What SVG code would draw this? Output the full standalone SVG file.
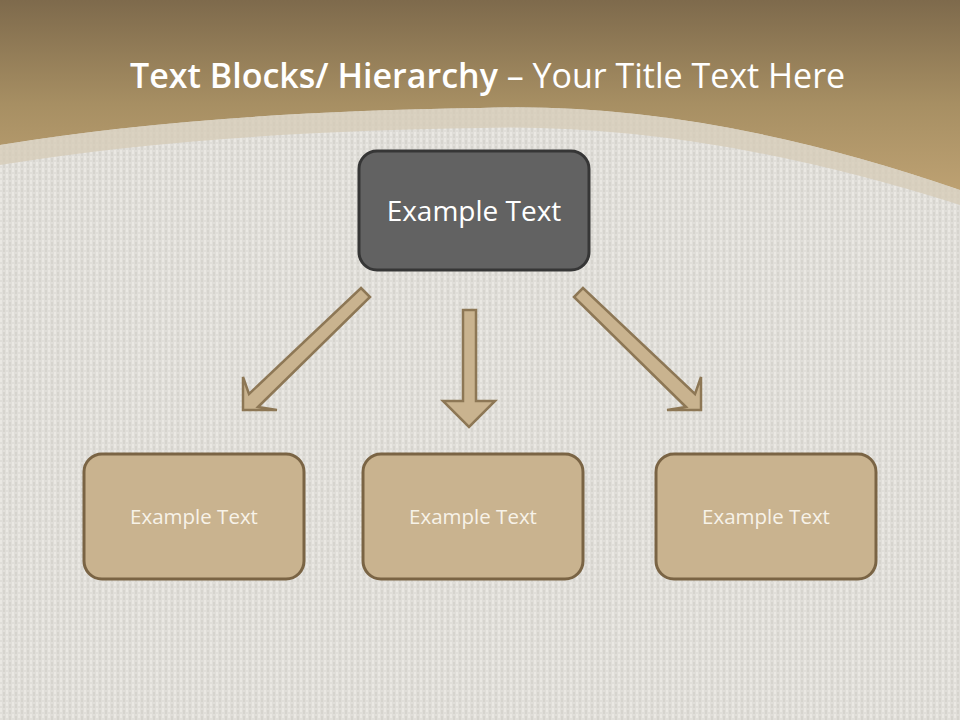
<svg xmlns="http://www.w3.org/2000/svg" width="960" height="720" viewBox="0 0 960 720">
<defs>
<linearGradient id="band" x1="0" y1="0" x2="0" y2="1">
<stop offset="0" stop-color="#7e6a4c"/>
<stop offset="0.55" stop-color="#a78f63"/>
<stop offset="1" stop-color="#bda172"/>
</linearGradient>
<pattern id="linen" width="6" height="6" patternUnits="userSpaceOnUse">
<rect width="6" height="6" fill="#e0ded9"/>
<rect x="0" y="0" width="2" height="4" fill="#eae8e3"/>
<rect x="3" y="2" width="2" height="4" fill="#d6d4ce"/>
</pattern>
<style>
.title{font-family:"Open Sans","Lato",sans-serif;font-size:34px;fill:#ffffff}
.top rect{fill:#626262;stroke:#363636;stroke-width:3}
.top text{font-family:"Open Sans","Lato",sans-serif;font-size:28px;fill:#ffffff;text-anchor:middle}
.box rect{fill:#c9b38f;stroke:#7a6444;stroke-width:3}
.box text{font-family:"Open Sans","Lato",sans-serif;font-size:20.5px;fill:#f7f2e8;text-anchor:middle}
.arrow{fill:#c9b38f;stroke:#8d7755;stroke-width:2.5;stroke-linejoin:miter}
</style>
</defs>
<rect width="960" height="720" fill="url(#linen)"/>
<path d="M0 0 H960 V190 Q700 100 480 108 Q200 112 0 145 Z" fill="url(#band)"/>
<path d="M0 145 Q200 112 480 108 Q700 100 960 190 V205 Q700 122 480 128 Q200 132 0 165 Z" fill="#d6cbb6" opacity="0.75"/>
<text class="title" x="130" y="88"><tspan font-weight="600">Text Blocks/ Hierarchy</tspan> – Your Title Text Here</text>
<g id="connectors">
<path class="arrow" d="M361 288 L370 297 L258 407 L277 410 L243 410 L243 377 L249 394 Z"/>
<path class="arrow" d="M463 310 H476 V401 H495 L469 427 L443 401 H463 Z"/>
<path class="arrow" d="M583 288 L574 297 L686 407 L667 410 L701 410 L701 377 L695 394 Z"/>
</g>
<g id="node-top" class="top">
<rect x="359" y="151" width="230" height="119" rx="18"/>
<text x="474" y="221">Example Text</text>
</g>
<g id="node-left" class="box">
<rect x="84" y="454" width="220" height="125" rx="18"/>
<text x="194" y="524">Example Text</text>
</g>
<g id="node-middle" class="box">
<rect x="363" y="454" width="220" height="125" rx="18"/>
<text x="473" y="524">Example Text</text>
</g>
<g id="node-right" class="box">
<rect x="656" y="454" width="220" height="125" rx="18"/>
<text x="766" y="524">Example Text</text>
</g>
</svg>
